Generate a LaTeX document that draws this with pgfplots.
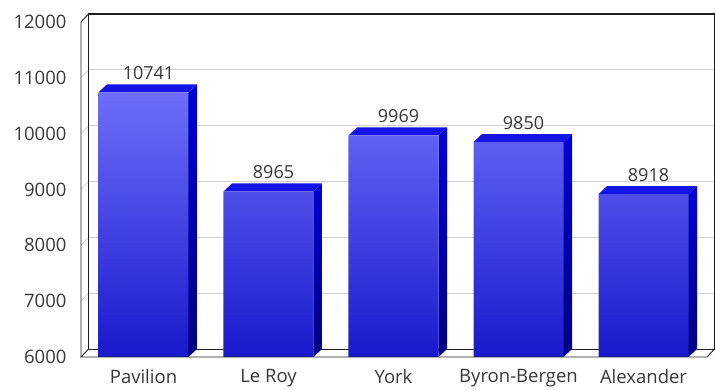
\documentclass[border=0pt]{standalone}
\usepackage{pgfplots}
\pgfplotsset{compat=1.18}
\usepackage{fontspec}
\setmainfont{Open Sans}
\definecolor{txt}{RGB}{55,55,55}
\definecolor{fronttop}{RGB}{110,110,250}
\definecolor{frontbot}{RGB}{25,25,205}
\definecolor{topface}{RGB}{20,20,228}
\definecolor{sidetop}{RGB}{0,0,215}
\definecolor{sidebot}{RGB}{0,0,125}
\definecolor{frame}{RGB}{30,30,30}
\begin{document}
\begin{tikzpicture}[x=1pt,y=1pt]
\path[use as bounding box] (-81,-33) rectangle (635,357);
\begin{axis}[
  at={(0,0)}, anchor=south west,
  scale only axis, width=625pt, height=335pt,
  xmin=-0.5, xmax=4.5, ymin=6000, ymax=12000,
  xtick={0,1,2,3,4},
  xticklabels={Pavilion, Le Roy, York, Byron-Bergen, Alexander},
  ytick={6000,7000,8000,9000,10000,11000,12000},
  scaled y ticks=false,
  /pgf/number format/1000 sep={},
  /pgf/number format/assume math mode=true,
  axis line style={draw=none},
  major tick length=0pt,
  ymajorgrids,
  major grid style={black!18, line width=0.8pt, xshift=7.5pt, yshift=8pt},
  tick label style={font=\fontsize{18.5}{20}\selectfont, text=txt},
  yticklabel style={xshift=-11pt},
  xticklabel style={yshift=-9pt},
  clip=false,
]
% left-wall continuation of the grid lines (decoration)
\pgfplotsinvokeforeach{7000,8000,9000,10000,11000}{
  \draw[black!18, line width=0.8pt] (axis cs:-0.5,#1) -- ([xshift=7.5pt,yshift=8pt]axis cs:-0.5,#1);
}
% back wall frame (decoration, drawn over the grid, under the bars)
\draw[frame, line width=0.9pt] ([xshift=7.5pt,yshift=8pt]rel axis cs:0,0) rectangle ([xshift=8.5pt,yshift=8pt]rel axis cs:1,1);
\draw[frame, line width=1.6pt] ([xshift=7.5pt,yshift=8pt]rel axis cs:0,1) -- ([xshift=8.5pt,yshift=8pt]rel axis cs:1,1);
% side faces
\addplot[draw=none, top color=sidetop, bottom color=sidebot] coordinates {(0.36,6000) (0.428,6143) (0.428,10884) (0.36,10741)} -- cycle;
\addplot[draw=none, top color=sidetop, bottom color=sidebot] coordinates {(1.36,6000) (1.428,6143) (1.428,9108) (1.36,8965)} -- cycle;
\addplot[draw=none, top color=sidetop, bottom color=sidebot] coordinates {(2.36,6000) (2.428,6143) (2.428,10112) (2.36,9969)} -- cycle;
\addplot[draw=none, top color=sidetop, bottom color=sidebot] coordinates {(3.36,6000) (3.428,6143) (3.428,9993) (3.36,9850)} -- cycle;
\addplot[draw=none, top color=sidetop, bottom color=sidebot] coordinates {(4.36,6000) (4.428,6143) (4.428,9061) (4.36,8918)} -- cycle;
% top faces
\addplot[draw=none, fill=topface] coordinates {(-0.36,10741) (-0.292,10884) (0.428,10884) (0.36,10741)} -- cycle;
\addplot[draw=none, fill=topface] coordinates {(0.64,8965) (0.708,9108) (1.428,9108) (1.36,8965)} -- cycle;
\addplot[draw=none, fill=topface] coordinates {(1.64,9969) (1.708,10112) (2.428,10112) (2.36,9969)} -- cycle;
\addplot[draw=none, fill=topface] coordinates {(2.64,9850) (2.708,9993) (3.428,9993) (3.36,9850)} -- cycle;
\addplot[draw=none, fill=topface] coordinates {(3.64,8918) (3.708,9061) (4.428,9061) (4.36,8918)} -- cycle;
% front faces
\addplot[ybar, bar width=0.72, draw=none, top color=fronttop, bottom color=frontbot,
  nodes near coords,
  every node near coord/.append style={font=\fontsize{18}{20}\selectfont, text=txt, xshift=5pt, yshift=9pt}]
  coordinates {(0,10741) (1,8965) (2,9969) (3,9850) (4,8918)};
\end{axis}
% front edges of the 3D frame (decoration)
\draw[frame, line width=0.9pt] (0,0) -- (0,335) -- (7.5,343);
\draw[frame, line width=0.9pt] (7.5,8) -- (0,0) -- (626,0) -- (633.5,8);
\end{tikzpicture}
\end{document}
